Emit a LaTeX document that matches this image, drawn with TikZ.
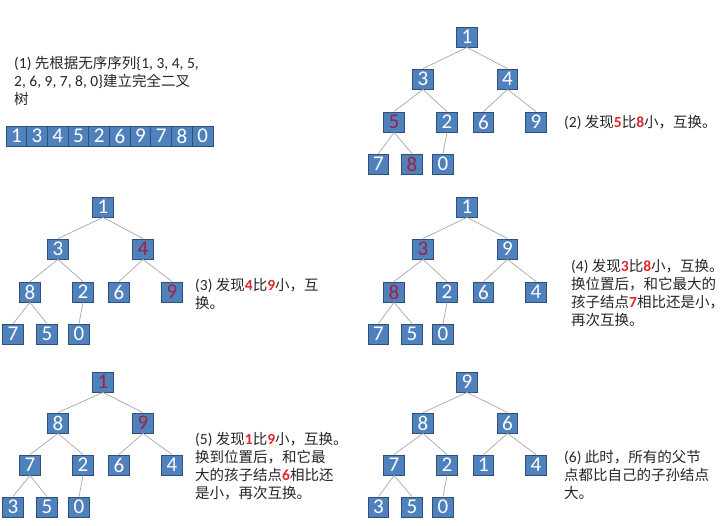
\documentclass[tikz,border=0pt]{standalone}
\usepackage{fontspec}
\setmainfont{Carlito}
\newfontfamily\cjk{Noto Sans CJK SC}
\definecolor{boxblue}{HTML}{4F81BD}
\definecolor{boxborder}{HTML}{30507A}
\definecolor{edgegrey}{HTML}{A8A8A8}
\definecolor{numred}{HTML}{A3203F}
\definecolor{txtred}{HTML}{E0282A}
\definecolor{txtdark}{HTML}{262626}
\newcommand\zh[1]{{\cjk\fontsize{14.5}{18}\selectfont #1}}
\newcommand\rd[1]{{\bfseries\color{txtred}#1}}
\newcommand\hl[1]{{\color{numred}#1}}
\tikzset{
  hbox/.style={draw=boxborder, fill=boxblue, text=white, minimum width=20.5, minimum height=20, inner sep=0pt, line width=0.9pt, font=\fontsize{21}{21}\selectfont},
  cell/.style={hbox, minimum width=20.7},
  edge/.style={draw=edgegrey, line width=0.7pt},
  note/.style={anchor=west, align=left, inner sep=0pt, text=txtdark, font=\fontsize{15.5}{18}\selectfont}
}
\begin{document}
\begin{tikzpicture}[x=1pt,y=-1pt]
\useasboundingbox (0,0) rectangle (728,526);
\fill[white] (0,0) rectangle (728,526);

% (1) text and array
\node[note] (t1) at (14,81) {(1) \zh{先根据无序序列}\{1, 3, 4, 5,\\2, 6, 9, 7, 8, 0\}\zh{建立完全二叉}\\\zh{树}};
\foreach \v [count=\i from 0] in {1,3,4,5,2,6,9,7,8,0}
  \node[cell] (arr\i) at ({16.35+20.7*\i},136) {\v};

% (2) tree
\begin{scope}[shift={(467,37)}]
\node[hbox] (b1) at (0,0) {1};
\node[hbox] (b3) at (-44,42) {3};
\node[hbox] (b4) at (40.5,42) {4};
\node[hbox] (b5) at (-73,85) {\hl{5}};
\node[hbox] (b2) at (-20,85) {2};
\node[hbox] (b6) at (16.5,85) {6};
\node[hbox] (b9) at (69,85) {9};
\node[hbox] (b7) at (-88.5,127) {7};
\node[hbox] (b8) at (-55,127) {\hl{8}};
\node[hbox] (b0) at (-24,127) {0};
\end{scope}
\draw[edge] (b1.south) -- (b3.north);
\draw[edge] (b1.south) -- (b4.north);
\draw[edge] (b3.south) -- (b5.north);
\draw[edge] (b3.south) -- (b2.north);
\draw[edge] (b4.south) -- (b6.north);
\draw[edge] (b4.south) -- (b9.north);
\draw[edge] (b5.south) -- (b7.north);
\draw[edge] (b5.south) -- (b8.north);
\draw[edge] (b2.south) -- (b0.north);
\node[note] (t2) at (564,122) {(2) \zh{发现}\rd{5}\zh{比}\rd{8}\zh{小，互换。}};

% (3) tree
\begin{scope}[shift={(103,207)}]
\node[hbox] (c1) at (0,0) {1};
\node[hbox] (c3) at (-45,42) {3};
\node[hbox] (c4) at (40,42) {\hl{4}};
\node[hbox] (c8) at (-73,85) {8};
\node[hbox] (c2) at (-20,85) {2};
\node[hbox] (c6) at (16,85) {6};
\node[hbox] (c9) at (69,85) {\hl{9}};
\node[hbox] (c7) at (-90,127) {7};
\node[hbox] (c5) at (-56,127) {5};
\node[hbox] (c0) at (-24,127) {0};
\end{scope}
\draw[edge] (c1.south) -- (c3.north);
\draw[edge] (c1.south) -- (c4.north);
\draw[edge] (c3.south) -- (c8.north);
\draw[edge] (c3.south) -- (c2.north);
\draw[edge] (c4.south) -- (c6.north);
\draw[edge] (c4.south) -- (c9.north);
\draw[edge] (c8.south) -- (c7.north);
\draw[edge] (c8.south) -- (c5.north);
\draw[edge] (c2.south) -- (c0.north);
\node[note] (t3) at (195,294) {(3) \zh{发现}\rd{4}\zh{比}\rd{9}\zh{小，互}\\\zh{换。}};

% (4) tree
\begin{scope}[shift={(467,207)}]
\node[hbox] (d1) at (0,0) {1};
\node[hbox] (d3) at (-44,42) {\hl{3}};
\node[hbox] (d9) at (40.5,42) {9};
\node[hbox] (d8) at (-73,85) {\hl{8}};
\node[hbox] (d2) at (-20,85) {2};
\node[hbox] (d6) at (16.5,85) {6};
\node[hbox] (d4) at (69,85) {4};
\node[hbox] (d7) at (-88.5,127) {7};
\node[hbox] (d5) at (-55,127) {5};
\node[hbox] (d0) at (-24,127) {0};
\end{scope}
\draw[edge] (d1.south) -- (d3.north);
\draw[edge] (d1.south) -- (d9.north);
\draw[edge] (d3.south) -- (d8.north);
\draw[edge] (d3.south) -- (d2.north);
\draw[edge] (d9.south) -- (d6.north);
\draw[edge] (d9.south) -- (d4.north);
\draw[edge] (d8.south) -- (d7.north);
\draw[edge] (d8.south) -- (d5.north);
\draw[edge] (d2.south) -- (d0.north);
\node[note] (t4) at (571,293) {(4) \zh{发现}\rd{3}\zh{比}\rd{8}\zh{小，互换。}\\\zh{换位置后，和它最大的}\\\zh{孩子结点}\rd{7}\zh{相比还是小，}\\\zh{再次互换。}};

% (5) tree
\begin{scope}[shift={(103,382)}]
\node[hbox] (e1) at (0,0) {\hl{1}};
\node[hbox] (e8) at (-45,41) {8};
\node[hbox] (e9) at (40,41) {\hl{9}};
\node[hbox] (e7) at (-73,83) {7};
\node[hbox] (e2) at (-20,83) {2};
\node[hbox] (e6) at (16,83) {6};
\node[hbox] (e4) at (69,83) {4};
\node[hbox] (e3) at (-90,125) {3};
\node[hbox] (e5) at (-56,125) {5};
\node[hbox] (e0) at (-24,125) {0};
\end{scope}
\draw[edge] (e1.south) -- (e8.north);
\draw[edge] (e1.south) -- (e9.north);
\draw[edge] (e8.south) -- (e7.north);
\draw[edge] (e8.south) -- (e2.north);
\draw[edge] (e9.south) -- (e6.north);
\draw[edge] (e9.south) -- (e4.north);
\draw[edge] (e7.south) -- (e3.north);
\draw[edge] (e7.south) -- (e5.north);
\draw[edge] (e2.south) -- (e0.north);
\node[note] (t5) at (195,466) {(5) \zh{发现}\rd{1}\zh{比}\rd{9}\zh{小，互换。}\\\zh{换到位置后，和它最}\\\zh{大的孩子结点}\rd{6}\zh{相比还}\\\zh{是小，再次互换。}};

% (6) tree
\begin{scope}[shift={(467,382)}]
\node[hbox] (f9) at (0,0) {9};
\node[hbox] (f8) at (-44,41) {8};
\node[hbox] (f6) at (40.5,41) {6};
\node[hbox] (f7) at (-73,83) {7};
\node[hbox] (f2) at (-20,83) {2};
\node[hbox] (f1) at (16.5,83) {1};
\node[hbox] (f4) at (69,83) {4};
\node[hbox] (f3) at (-88.5,125) {3};
\node[hbox] (f5) at (-55,125) {5};
\node[hbox] (f0) at (-24,125) {0};
\end{scope}
\draw[edge] (f9.south) -- (f8.north);
\draw[edge] (f9.south) -- (f6.north);
\draw[edge] (f8.south) -- (f7.north);
\draw[edge] (f8.south) -- (f2.north);
\draw[edge] (f6.south) -- (f1.north);
\draw[edge] (f6.south) -- (f4.north);
\draw[edge] (f7.south) -- (f3.north);
\draw[edge] (f7.south) -- (f5.north);
\draw[edge] (f2.south) -- (f0.north);
\node[note] (t6) at (564,475) {(6) \zh{此时，所有的父节}\\\zh{点都比自己的子孙结点}\\\zh{大。}};
\end{tikzpicture}
\end{document}
